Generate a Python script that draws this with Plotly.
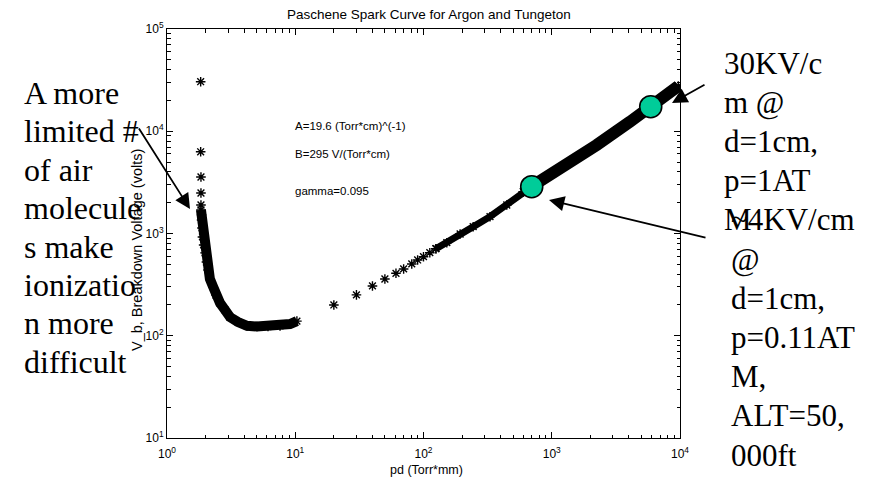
import plotly.graph_objects as go

# ---------------- data ----------------
left_sparse_pd = [1.83, 1.83, 1.84, 1.84, 1.84]
left_sparse_v = [30500, 6300, 3570, 2490, 1900]

left_band_pd = [1.84, 1.86, 1.86, 1.875, 1.89, 1.93, 1.98, 2.03, 2.09, 2.16, 2.29,
                2.41, 2.59, 2.83, 3.10, 3.58, 4.21, 5.03, 6.13, 7.61, 9.10, 10.3]
left_band_v = [1700, 1520, 1355, 1133, 925, 773, 646, 526, 440, 359, 300,
               250, 209, 179, 152, 136, 125, 123, 123, 125, 130, 139]

right_sparse_pd = [20, 30, 40, 50, 61, 70, 81, 90, 100, 112, 125]
right_sparse_v = [200, 251, 307, 359, 408, 450, 504, 551, 593, 649, 710]

right_mid_pd = [125, 152, 193, 244, 330, 446, 601, 698]
right_mid_v = [710, 813, 989, 1166, 1460, 1900, 2566, 2870]

right_dense_pd = [601, 698, 1231, 2242, 4078, 5912, 7410, 9700]
right_dense_v = [2566, 2870, 4500, 7340, 12400, 17380, 21800, 27700]

highlight_pd = [698, 5912]
highlight_v = [2870, 17380]

tick_vals_x = [1, 10, 100, 1000, 10000]
tick_text_x = ["10<sup>0</sup>", "10<sup>1</sup>", "10<sup>2</sup>", "10<sup>3</sup>", "10<sup>4</sup>"]
tick_vals_y = [10, 100, 1000, 10000, 100000]
tick_text_y = ["10<sup>1</sup>", "10<sup>2</sup>", "10<sup>3</sup>", "10<sup>4</sup>", "10<sup>5</sup>"]

left_note = ["A more", "limited #", "of air", "molecule", "s make", "ionizatio", "n more", "difficult"]
right_note1 = ["30KV/c", "m @", "d=1cm,", "p=1AT", "M"]
right_note2 = ["~4KV/cm", "@", "d=1cm,", "p=0.11AT", "M,", "ALT=50,", "000ft"]
params = ["A=19.6 (Torr*cm)^(-1)", "B=295 V/(Torr*cm)", "gamma=0.095"]

# ---------------- layout geometry ----------------
W, H = 871, 477
L, R, T, B = 167, 680, 29, 438


def px(x):
    return (x - L) / (R - L)


def py(y):
    return (B - y) / (B - T)


SANS = "Liberation Sans, Arial, sans-serif"
SERIF = "Liberation Serif, Times New Roman, serif"

star = dict(symbol="asterisk-open", size=8, color="black", line=dict(color="black", width=1.4))

fig = go.Figure()
fig.add_trace(go.Scatter(x=left_sparse_pd, y=left_sparse_v, mode="markers", marker=star))
fig.add_trace(go.Scatter(x=left_band_pd, y=left_band_v, mode="lines+markers",
                         line=dict(color="black", width=10), marker=star))
fig.add_trace(go.Scatter(x=right_sparse_pd, y=right_sparse_v, mode="markers", marker=star))
fig.add_trace(go.Scatter(x=right_mid_pd, y=right_mid_v, mode="lines+markers",
                         line=dict(color="black", width=7), marker=star))
fig.add_trace(go.Scatter(x=right_dense_pd, y=right_dense_v, mode="lines+markers",
                         line=dict(color="black", width=12), marker=star))
fig.add_trace(go.Scatter(x=highlight_pd, y=highlight_v, mode="markers",
                         marker=dict(symbol="circle", size=22, color="#00CC99",
                                     line=dict(color="black", width=1.6))))

ann = []
# title
ann.append(dict(text="Paschene Spark Curve for Argon and Tungeton", x=px(429), y=py(15),
                xref="paper", yref="paper", showarrow=False, xanchor="center", yanchor="middle",
                font=dict(family=SANS, size=13.5, color="black")))
# axis titles
ann.append(dict(text="pd (Torr*mm)", x=px(426), y=py(470), xref="paper", yref="paper",
                showarrow=False, xanchor="center", yanchor="middle",
                font=dict(family=SANS, size=12.5, color="black")))
ann.append(dict(text="V_b, Breakdown Voltage (volts)", x=px(137), y=py(250), xref="paper", yref="paper",
                showarrow=False, xanchor="center", yanchor="middle", textangle=-90,
                font=dict(family=SANS, size=14.5, color="black")))
# parameter text
for txt, yy in zip(params, [126, 154, 191]):
    ann.append(dict(text=txt, x=px(293), y=py(yy), xref="paper", yref="paper", showarrow=False,
                    xanchor="left", yanchor="middle", font=dict(family=SANS, size=11.5, color="black")))
# left note
for i, txt in enumerate(left_note):
    ann.append(dict(text=txt, x=px(22), y=py(93 + 38.4 * i), xref="paper", yref="paper", showarrow=False,
                    xanchor="left", yanchor="middle", font=dict(family=SERIF, size=32, color="black")))
# right notes
for i, txt in enumerate(right_note1):
    ann.append(dict(text=txt, x=px(722), y=py(63 + 39.2 * i), xref="paper", yref="paper", showarrow=False,
                    xanchor="left", yanchor="middle", font=dict(family=SERIF, size=31, color="black")))
for i, txt in enumerate(right_note2):
    ann.append(dict(text=txt, x=px(729), y=py(63 + 39.2 * (i + 4)), xref="paper", yref="paper",
                    showarrow=False, xanchor="left", yanchor="middle",
                    font=dict(family=SERIF, size=31, color="black")))
# arrows (tip, tail)
arrows = [((190, 209), (138, 127)), ((672, 103), (706, 84)), ((549, 200), (707, 238))]
for (tx, ty), (sx, sy) in arrows:
    ann.append(dict(text="", x=px(tx), y=py(ty), xref="paper", yref="paper", showarrow=True,
                    ax=sx - tx, ay=sy - ty, arrowhead=2, arrowsize=1.7, arrowwidth=1.8,
                    arrowcolor="black", standoff=0))

axis_common = dict(type="log", showgrid=False, zeroline=False, showline=True, linecolor="black",
                   linewidth=1, mirror="allticks", ticks="inside", ticklen=6, tickcolor="black",
                   tickfont=dict(family=SANS, size=12, color="black"),
                   minor=dict(ticks="inside", ticklen=3.5, tickcolor="black", dtick="D1", showgrid=False))

fig.update_layout(
    width=W, height=H, autosize=False,
    margin=dict(l=L, r=W - R, t=T, b=H - B, pad=0),
    paper_bgcolor="white", plot_bgcolor="white", showlegend=False,
    xaxis=dict(axis_common, range=[0, 4], tickmode="array", tickvals=tick_vals_x, ticktext=tick_text_x,
               ticklabelstandoff=5),
    yaxis=dict(axis_common, range=[1, 5], tickmode="array", tickvals=tick_vals_y, ticktext=tick_text_y),
    annotations=ann,
)

fig.write_html("out.html")
